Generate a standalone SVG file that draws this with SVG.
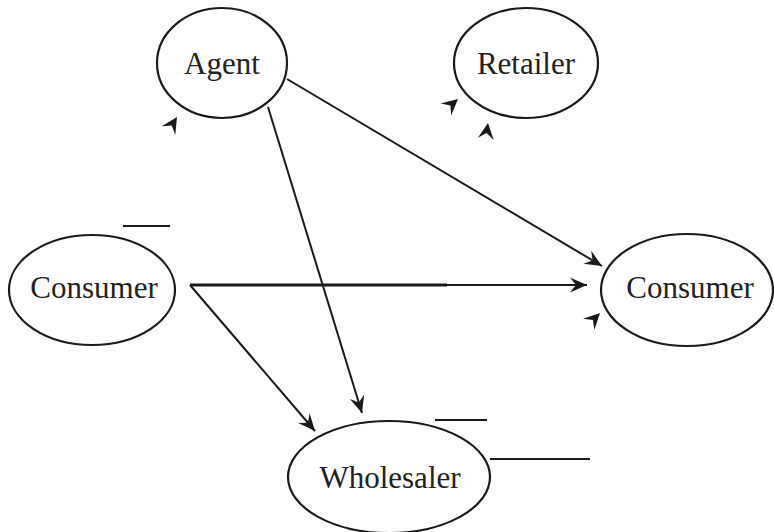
<svg xmlns="http://www.w3.org/2000/svg" width="774" height="532" viewBox="0 0 774 532">
<style>
.node ellipse{fill:#fff;stroke:#1a1a1a;stroke-width:2.2}
.node text{font-family:"Liberation Serif","Times New Roman",serif;font-size:31px;fill:#222;text-anchor:middle}
.edge{stroke:#1a1a1a;stroke-width:2;fill:none}
.ah{fill:#1a1a1a}
.bar{stroke:#1a1a1a;stroke-width:2}
</style>
<defs>
<marker id="arr" markerUnits="userSpaceOnUse" markerWidth="20" markerHeight="18" refX="0" refY="0" viewBox="-18 -9 20 18" orient="auto">
<path d="M0,0 L-17,-7.5 L-11,0 L-17,7.5 Z" fill="#1a1a1a"/>
</marker>
<path id="head" d="M0,0 L-16,-8 L-10,0 L-16,8 Z"/>
</defs>
<rect width="774" height="532" fill="#fff"/>
<g id="connectors">
<line class="edge" x1="268" y1="107" x2="362" y2="413" marker-end="url(#arr)"/>
<line class="edge" x1="287" y1="79" x2="602" y2="266" marker-end="url(#arr)"/>
<line class="edge" x1="190" y1="285" x2="315" y2="431" marker-end="url(#arr)"/>
<line class="edge" x1="190" y1="285" x2="587" y2="285" marker-end="url(#arr)"/>
<line class="edge" x1="190" y1="285" x2="447" y2="285" style="stroke-width:3.2"/>
<use href="#head" class="ah" transform="translate(177,117) rotate(-58)"/>
<use href="#head" class="ah" transform="translate(458,99) rotate(-41)"/>
<use href="#head" class="ah" transform="translate(488,123) rotate(-82)"/>
<use href="#head" class="ah" transform="translate(600,313) rotate(-45)"/>
<line class="bar" x1="123" y1="226" x2="170" y2="226"/>
<line class="bar" x1="435" y1="420" x2="487" y2="420"/>
<line class="bar" x1="490" y1="459" x2="590" y2="459"/>
</g>
<g id="agent" class="node">
<ellipse cx="222" cy="63" rx="65" ry="55"/>
<text x="222" y="74">Agent</text>
</g>
<g id="retailer" class="node">
<ellipse cx="526" cy="63" rx="72" ry="55"/>
<text x="526" y="74">Retailer</text>
</g>
<g id="consumer-left" class="node">
<ellipse cx="92" cy="290" rx="83" ry="55"/>
<text x="94" y="298">Consumer</text>
</g>
<g id="consumer-right" class="node">
<ellipse cx="687" cy="290" rx="86" ry="56"/>
<text x="690" y="298">Consumer</text>
</g>
<g id="wholesaler" class="node">
<ellipse cx="389" cy="477" rx="101" ry="56"/>
<text x="390" y="488">Wholesaler</text>
</g>
</svg>
